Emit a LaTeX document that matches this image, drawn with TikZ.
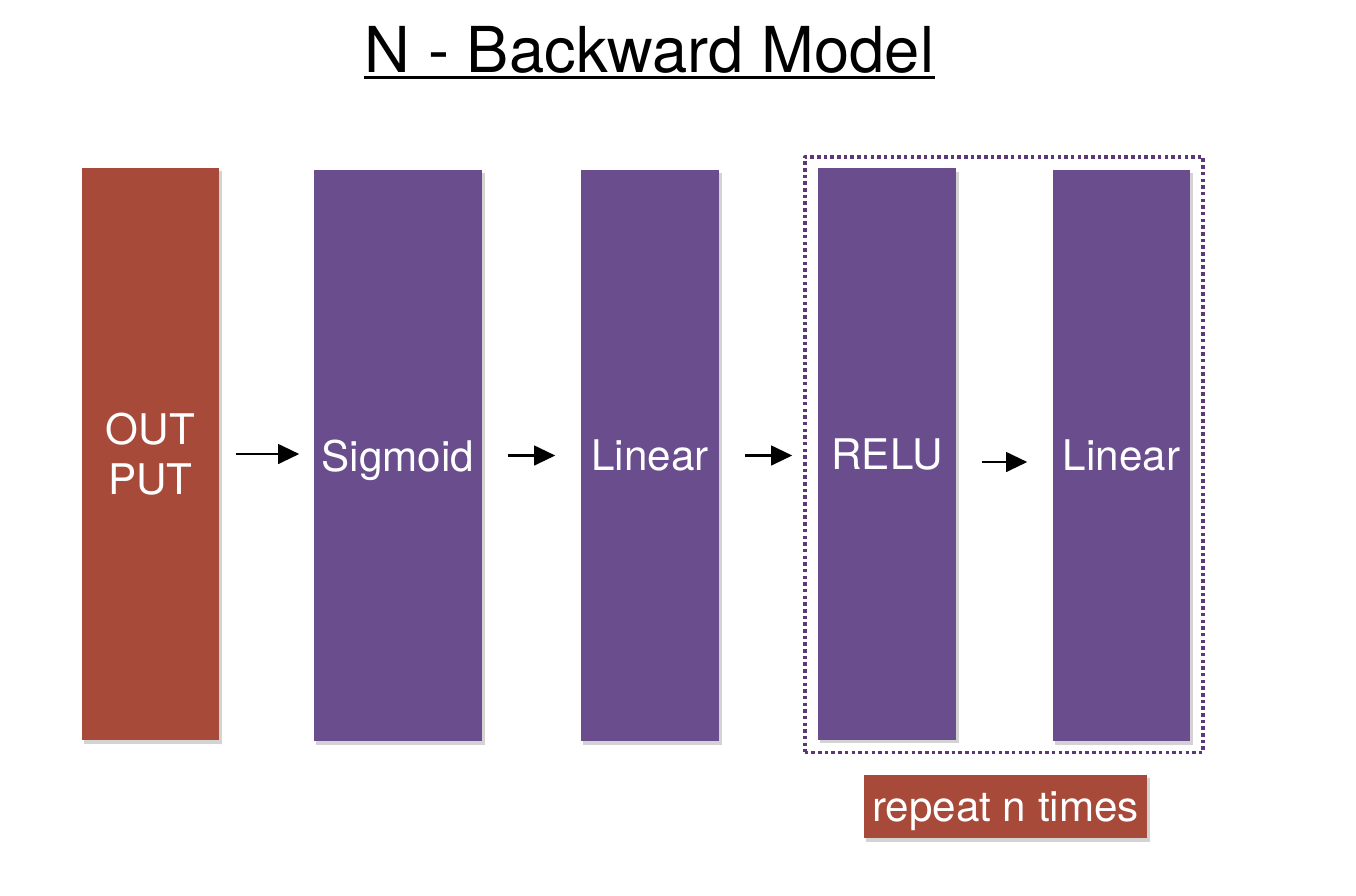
\documentclass[tikz,border=0pt]{standalone}
\usepackage{fontspec}
\setmainfont{TeX Gyre Heros}
\usetikzlibrary{arrows.meta,fit,shadows}
\definecolor{brick}{RGB}{167,74,58}
\definecolor{grape}{RGB}{106,77,141}
\definecolor{grapeline}{RGB}{92,56,120}
\begin{document}
\begin{tikzpicture}[x=0.01cm,y=-0.01cm,line join=round,
	layer/.style={minimum width=1.37cm,minimum height=5.71cm,inner sep=0pt,text=white,align=center,
		text depth=0pt,font=\fontsize{12}{14.2}\selectfont,
		drop shadow={shadow xshift=0.025cm,shadow yshift=-0.035cm,opacity=0.35}},
	outbox/.style={layer,fill=brick},
	actbox/.style={layer,fill=grape},
	flow/.style={-{Triangle[length=6pt,width=5.6pt]},line width=0.65pt,shorten <=0.25cm,shorten >=0.25cm}]
	\useasboundingbox (0,0) rectangle (1356,896);
	% title
	\node[anchor=base,inner sep=0,font=\fontsize{18}{20}\selectfont] (title) at (649.5,72) {N - Backward Model};
	\draw[line width=0.85pt] ([yshift=-0.05cm]title.base west)--([yshift=-0.05cm]title.base east);
	% layers
	\node[outbox,minimum height=5.72cm] (out) at (150.5,454) {OUT\\PUT};
	\node[actbox,minimum width=1.68cm] (sig) at (398,455.5) {Sigmoid};
	\node[actbox,minimum width=1.38cm] (lin1) at (650,455.5) {Linear};
	\node[actbox,minimum width=1.38cm] (relu) at (887,454) {RELU};
	\node[actbox] (lin2) at (1121.5,455.5) {Linear};
	% repeated block
	\node[draw=grapeline,line width=1pt,dash pattern=on 1pt off 0.9pt,
		fit=(relu)(lin2),inner xsep=0.125cm,inner ysep=0.105cm] (block) {};
	\node[outbox,minimum width=2.83cm,minimum height=0.63cm] (times) at (1005.5,806.5) {repeat n times};
	% arrows
	\draw[flow,shorten <=0.16cm,shorten >=0.14cm] (out.east)--(out.east-|sig.west);
	\foreach \a/\b in {sig/lin1,lin1/relu}
		\draw[flow] (\a.east)--(\a.east-|\b.west);
	\coordinate (r4) at ([yshift=-0.08cm]relu.east);
	\draw[flow] (r4)--(r4-|lin2.west);
\end{tikzpicture}
\end{document}
